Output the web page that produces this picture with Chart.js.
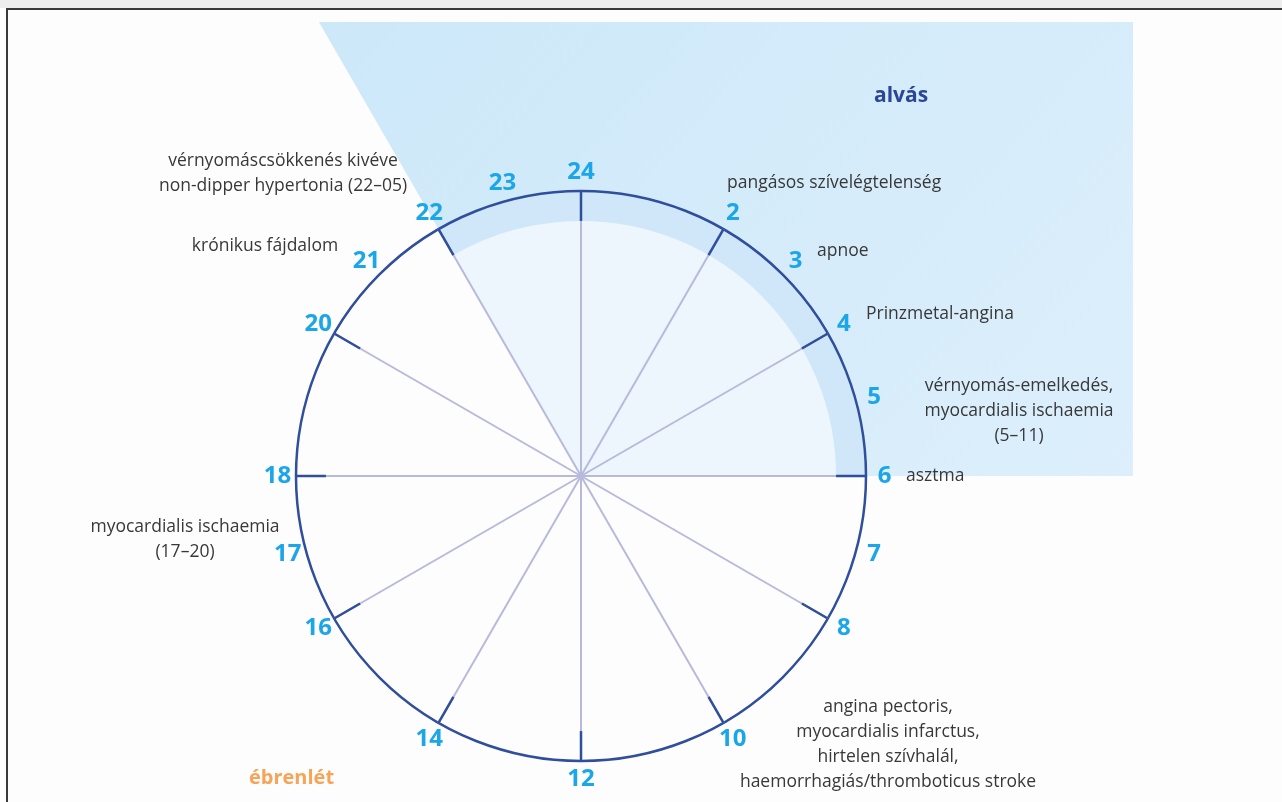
<!DOCTYPE html>
<html>
<head>
<meta charset="utf-8">
<script src="https://cdn.jsdelivr.net/npm/chart.js@4/dist/chart.umd.min.js"></script>
<style>
  html, body { margin: 0; padding: 0; background: #fff; }
  #wrap { position: relative; width: 1282px; height: 802px; overflow: hidden; }
  #strip { position: absolute; left: 0; top: 0; width: 1282px; height: 8px; background: #eeeeee; }
  #frame { position: absolute; left: 6px; top: 8px; right: 0; bottom: 0;
           border-top: 2px solid #3a3a3a; border-left: 2px solid #3a3a3a; background: #fdfdfd; }
  canvas { position: absolute; left: 0; top: 0; }
</style>
</head>
<body>
<div id="wrap">
  <div id="strip"></div>
  <div id="frame"></div>
  <canvas id="clock" width="1282" height="802"></canvas>
</div>
<script>
// 24 órás óra: minden óra egy címke (0 = 24)
const hours = ["24","1","2","3","4","5","6","7","8","9","10","11","12",
               "13","14","15","16","17","18","19","20","21","22","23"];
const shownHours = [24, 2, 3, 4, 5, 6, 7, 8, 10, 12, 14, 16, 17, 18, 20, 21, 22, 23];
const tickHours = [0, 2, 4, 6, 8, 10, 12, 14, 16, 18, 20, 22];

// szakaszok 24 órától: 24–6, 6–22, 22–24 (órában)
const segmentHours = [6, 16, 2];
const sleepSky   = [2.6, 0, 2.6];
const sleepBand  = [1, 0, 1];
const sleepInner = [0.895, 0, 0.895];

const notes = [
    { lines: ["vérnyomáscsökkenés kivéve", "non-dipper hypertonia (22–05)"], x: 283, y: 161, align: "center" },
    { lines: ["krónikus fájdalom"], x: 265, y: 246, align: "center" },
    { lines: ["pangásos szívelégtelenség"], x: 727, y: 183, align: "left" },
    { lines: ["apnoe"], x: 817, y: 251, align: "left" },
    { lines: ["Prinzmetal-angina"], x: 866, y: 314, align: "left" },
    { lines: ["vérnyomás-emelkedés,", "myocardialis ischaemia", "(5–11)"], x: 1019, y: 386, align: "center" },
    { lines: ["asztma"], x: 906, y: 476, align: "left" },
    { lines: ["myocardialis ischaemia", "(17–20)"], x: 185, y: 527, align: "center" },
    { lines: ["angina pectoris,", "myocardialis infarctus,", "hirtelen szívhalál,", "haemorrhagiás/thromboticus stroke"], x: 888, y: 707, align: "center" }
];

const FONT = '"Open Sans", "Noto Sans", sans-serif';

const clockDecor = {
    id: "clockDecor",
    afterDraw(chart) {
        const ctx = chart.ctx;
        const r = chart.scales.r;
        ctx.save();

        // rövid sötét jelek a páros óráknál
        ctx.strokeStyle = "#2f4e9c";
        ctx.lineWidth = 2.5;
        tickHours.forEach(h => {
            const a = r.getPointPositionForValue(h, 0.895);
            const b = r.getPointPositionForValue(h, 1);
            ctx.beginPath();
            ctx.moveTo(a.x, a.y);
            ctx.lineTo(b.x, b.y);
            ctx.stroke();
        });

        // óra számok
        ctx.fillStyle = "#1ba6ea";
        ctx.font = "bold 24px " + FONT;
        ctx.textAlign = "center";
        ctx.textBaseline = "middle";
        shownHours.forEach(h => {
            const p = r.getPointPositionForValue(h % 24, 1.065);
            ctx.fillText(String(h), p.x, p.y);
        });

        // megjegyzések
        ctx.fillStyle = "#383838";
        ctx.font = "17.5px " + FONT;
        notes.forEach(n => {
            ctx.textAlign = n.align;
            n.lines.forEach((line, i) => ctx.fillText(line, n.x, n.y + i * 25));
        });

        ctx.font = "bold 21px " + FONT;
        ctx.textAlign = "left";
        ctx.fillStyle = "#2b4597";
        ctx.fillText("alvás", 874, 96);
        ctx.font = "bold 20px " + FONT;
        ctx.fillStyle = "#f7a457";
        ctx.fillText("ébrenlét", 249, 778);

        ctx.restore();
    }
};

function skyGradient(context) {
    const area = context.chart.chartArea;
    if (!area) return "#d6ecfa";
    const g = context.chart.ctx.createLinearGradient(area.left, 22, 1133, area.bottom);
    g.addColorStop(0, "#cce8f9");
    g.addColorStop(1, "#e0f0fc");
    return g;
}

new Chart(document.getElementById("clock"), {
    type: "polarArea",
    data: {
        labels: hours,
        datasets: [
            {
                label: "alvás",
                data: sleepInner,
                angle: segmentHours.map(h => h * 15),
                backgroundColor: "#eef6fd",
                borderWidth: 0,
                order: 1
            },
            {
                label: "sáv",
                data: sleepBand,
                angle: segmentHours.map(h => h * 15),
                backgroundColor: "#cfe7f8",
                borderWidth: 0,
                order: 2
            },
            {
                label: "háttér",
                data: sleepSky,
                angle: segmentHours.map(h => h * 15),
                backgroundColor: skyGradient,
                borderWidth: 0,
                clip: { left: false, top: 169, right: 267, bottom: 0 },
                order: 3
            }
        ]
    },
    options: {
        responsive: false,
        animation: false,
        layout: { padding: { left: 296, top: 191, right: 416, bottom: 41 } },
        plugins: { legend: { display: false }, tooltip: { enabled: false } },
        scales: {
            r: {
                min: 0,
                max: 1,
                ticks: { display: false, stepSize: 1 },
                grid: { circular: true, color: "#2f4e9c", lineWidth: 2.5, z: 1 },
                angleLines: {
                    display: true,
                    color: ctx => ctx.index % 2 === 0 ? "#b8badb" : "rgba(0,0,0,0)",
                    lineWidth: 2
                },
                pointLabels: { display: false }
            }
        }
    },
    plugins: [clockDecor]
});
</script>
</body>
</html>
